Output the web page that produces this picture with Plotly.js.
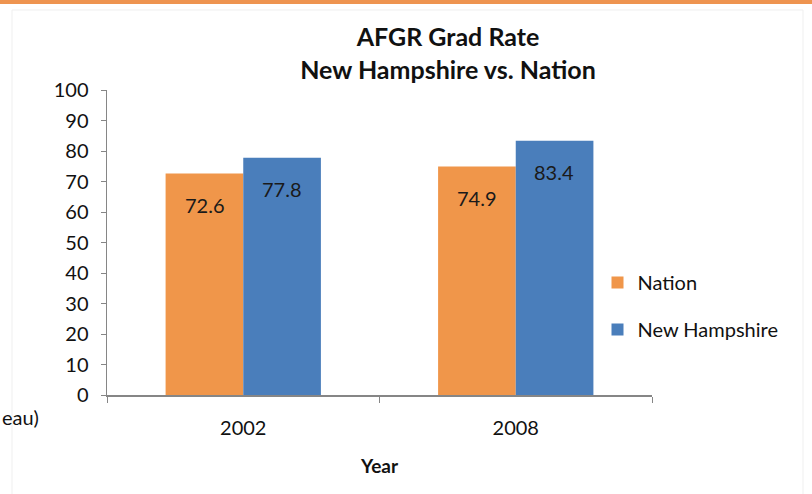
<!DOCTYPE html>
<html><head><meta charset="utf-8">
<script src="https://cdn.plot.ly/plotly-3.0.1.min.js"></script>
<style>html,body{margin:0;padding:0;background:#fff}#chart{width:812px;height:494px}</style>
</head><body><div id="chart"></div>
<script>
const years = ['2002', '2008'];
const nation = [72.6, 74.9];
const newHampshire = [77.8, 83.4];
const yTicks = [0, 10, 20, 30, 40, 50, 60, 70, 80, 90, 100];

const FONT = 'Lato, "Open Sans", sans-serif';
const orange = '#F0964A';
const blue = '#4A7EBB';

const traces = [
  {type: 'bar', name: 'Nation', x: years, y: nation, marker: {color: orange}, legendgroup: 'a', hoverinfo: 'none'},
  {type: 'bar', name: 'New Hampshire', x: years, y: newHampshire, marker: {color: blue}, legendgroup: 'b', hoverinfo: 'none'}
];

const annotations = [];
years.forEach((yr, i) => {
  annotations.push({x: i, y: nation[i], xref: 'x', yref: 'y', text: nation[i].toFixed(1), showarrow: false,
    xshift: -38.5, yshift: -31, yanchor: 'middle', font: {family: FONT, size: 20, color: '#1a1a1a'}});
  annotations.push({x: i, y: newHampshire[i], xref: 'x', yref: 'y', text: newHampshire[i].toFixed(1), showarrow: false,
    xshift: 38.5, yshift: -31, yanchor: 'middle', font: {family: FONT, size: 20, color: '#1a1a1a'}});
});
annotations.push({x: -107/545, y: -22/305, xref: 'paper', yref: 'paper', text: 'eau)', showarrow: false,
  xanchor: 'left', yanchor: 'middle', font: {family: FONT, size: 20, color: '#111'}});

const layout = {
  width: 812, height: 494,
  margin: {l: 107, r: 160, t: 90, b: 99},
  paper_bgcolor: '#fff', plot_bgcolor: '#fff',
  font: {family: FONT, color: '#111'},
  title: {text: '<b>AFGR Grad Rate<br>New Hampshire vs. Nation</b>', x: 448/812, xanchor: 'center',
    y: 1 - 46/494, yanchor: 'middle', font: {family: FONT, size: 25, color: '#111'}},
  barmode: 'group', bargap: 0.43, bargroupgap: 0,
  xaxis: {type: 'category', range: [-0.5, 1.5], showline: true, linecolor: '#868686', linewidth: 1.5, ticks: 'outside', tickson: 'boundaries',
    ticklen: 6, tickcolor: '#868686', tickfont: {family: FONT, size: 20, color: '#111'}, ticklabelstandoff: 14, tickangle: 0,
    title: {text: '<b>Year</b>', font: {family: FONT, size: 19, color: '#111'}, standoff: 22}, fixedrange: true},
  yaxis: {range: [0, 100], tickvals: yTicks, showgrid: false, zeroline: false, showline: true, linecolor: '#868686', linewidth: 1.5,
    ticks: 'outside', ticklen: 5, tickcolor: '#868686', tickfont: {family: FONT, size: 20, color: '#111'}, ticklabelstandoff: 8, fixedrange: true},
  showlegend: true,
  legend: {x: 0.9, xanchor: 'left', y: 0.292, yanchor: 'middle', traceorder: 'grouped', tracegroupgap: 18,
    font: {family: FONT, size: 20, color: '#111'}, bgcolor: 'rgba(0,0,0,0)'},
  annotations: annotations,
  shapes: [
    {type: 'rect', xref: 'paper', yref: 'paper', x0: -0.2, x1: 1.3, y0: 391/305, y1: 1.31, fillcolor: '#EE9450', line: {width: 0}},
    {type: 'line', xref: 'paper', yref: 'paper', x0: -95/545, x1: (803-107)/545, y0: 385/305, y1: 385/305, line: {color: '#efefef', width: 1}},
    {type: 'line', xref: 'paper', yref: 'paper', x0: -95/545, x1: -95/545, y0: 385/305, y1: -0.33, line: {color: '#efefef', width: 1}},
    {type: 'line', xref: 'paper', yref: 'paper', x0: (803-107)/545, x1: (803-107)/545, y0: 385/305, y1: -0.33, line: {color: '#efefef', width: 1}}
  ]
};

Plotly.newPlot('chart', traces, layout, {displayModeBar: false, staticPlot: true});
</script></body></html>
